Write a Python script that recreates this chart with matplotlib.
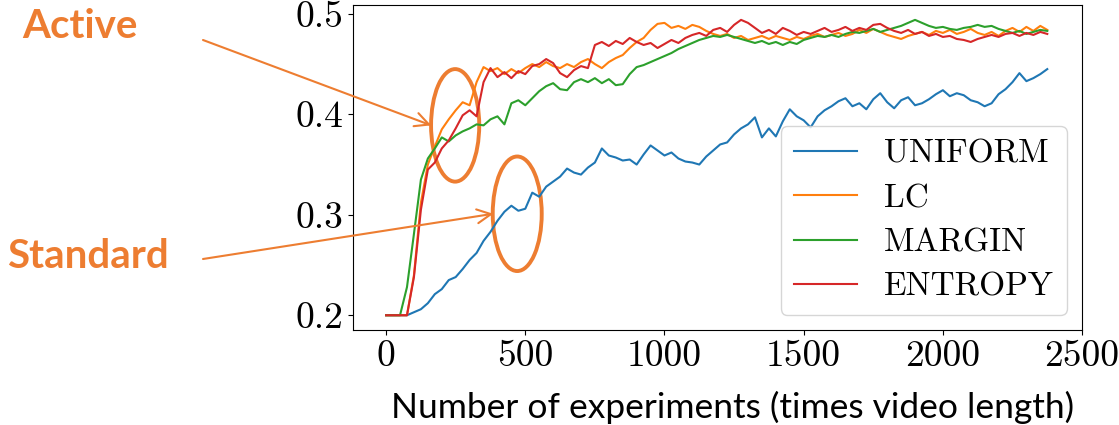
import numpy as np
import matplotlib
matplotlib.use('Agg')
import matplotlib.pyplot as plt
from matplotlib.patches import Ellipse

steps = np.arange(0, 2400, 25)

uniform = [0.200, 0.200, 0.200, 0.200, 0.203, 0.206, 0.212, 0.221, 0.226, 0.235,
           0.238, 0.246, 0.255, 0.262, 0.274, 0.283, 0.294, 0.303, 0.309, 0.304,
           0.306, 0.322, 0.318, 0.328, 0.333, 0.338, 0.346, 0.342, 0.340, 0.347,
           0.352, 0.366, 0.359, 0.357, 0.354, 0.355, 0.350, 0.360, 0.369, 0.364,
           0.359, 0.362, 0.356, 0.353, 0.352, 0.350, 0.358, 0.364, 0.370, 0.372,
           0.380, 0.386, 0.390, 0.397, 0.377, 0.386, 0.378, 0.393, 0.405, 0.398,
           0.394, 0.387, 0.398, 0.404, 0.408, 0.413, 0.416, 0.408, 0.411, 0.405,
           0.415, 0.421, 0.412, 0.406, 0.414, 0.417, 0.409, 0.411, 0.415, 0.420,
           0.424, 0.418, 0.421, 0.419, 0.414, 0.412, 0.408, 0.411, 0.420, 0.425,
           0.432, 0.441, 0.433, 0.436, 0.440, 0.445]

lc = [0.200, 0.200, 0.200, 0.200, 0.240, 0.312, 0.350, 0.368, 0.385, 0.395,
      0.404, 0.412, 0.409, 0.432, 0.447, 0.443, 0.446, 0.440, 0.445, 0.441,
      0.446, 0.450, 0.447, 0.452, 0.448, 0.446, 0.450, 0.447, 0.452, 0.455,
      0.450, 0.446, 0.452, 0.456, 0.459, 0.466, 0.472, 0.476, 0.484, 0.490,
      0.491, 0.486, 0.488, 0.485, 0.489, 0.487, 0.483, 0.480, 0.478, 0.480,
      0.476, 0.478, 0.474, 0.476, 0.478, 0.475, 0.478, 0.476, 0.474, 0.477,
      0.475, 0.478, 0.480, 0.477, 0.479, 0.481, 0.478, 0.480, 0.484, 0.481,
      0.485, 0.482, 0.479, 0.477, 0.475, 0.478, 0.480, 0.482, 0.479, 0.483,
      0.481, 0.484, 0.480, 0.482, 0.485, 0.481, 0.479, 0.482, 0.478, 0.483,
      0.486, 0.482, 0.487, 0.483, 0.488, 0.484]

margin = [0.200, 0.200, 0.200, 0.228, 0.281, 0.335, 0.356, 0.366, 0.377, 0.373,
          0.379, 0.383, 0.386, 0.390, 0.389, 0.395, 0.398, 0.390, 0.411, 0.414,
          0.409, 0.416, 0.423, 0.428, 0.431, 0.425, 0.424, 0.432, 0.435, 0.432,
          0.436, 0.431, 0.435, 0.429, 0.430, 0.440, 0.447, 0.449, 0.452, 0.455,
          0.458, 0.461, 0.465, 0.468, 0.471, 0.474, 0.476, 0.478, 0.477, 0.479,
          0.477, 0.475, 0.473, 0.471, 0.473, 0.470, 0.472, 0.469, 0.472, 0.470,
          0.474, 0.476, 0.478, 0.477, 0.479, 0.477, 0.480, 0.482, 0.481, 0.483,
          0.485, 0.482, 0.484, 0.486, 0.488, 0.491, 0.494, 0.491, 0.488, 0.486,
          0.487, 0.485, 0.484, 0.486, 0.487, 0.489, 0.487, 0.488, 0.485, 0.483,
          0.481, 0.483, 0.480, 0.482, 0.484, 0.483]

entropy = [0.200, 0.200, 0.200, 0.200, 0.238, 0.305, 0.345, 0.352, 0.366, 0.374,
           0.386, 0.399, 0.404, 0.398, 0.432, 0.446, 0.437, 0.442, 0.436, 0.443,
           0.440, 0.448, 0.450, 0.455, 0.451, 0.441, 0.437, 0.444, 0.448, 0.446,
           0.469, 0.472, 0.468, 0.473, 0.470, 0.476, 0.472, 0.469, 0.471, 0.466,
           0.470, 0.474, 0.471, 0.476, 0.479, 0.481, 0.478, 0.484, 0.486, 0.482,
           0.489, 0.494, 0.491, 0.486, 0.481, 0.484, 0.480, 0.486, 0.483, 0.479,
           0.482, 0.480, 0.483, 0.486, 0.482, 0.484, 0.487, 0.483, 0.486, 0.484,
           0.489, 0.490, 0.486, 0.483, 0.481, 0.484, 0.480, 0.482, 0.478, 0.480,
           0.477, 0.478, 0.475, 0.474, 0.472, 0.475, 0.477, 0.479, 0.477, 0.480,
           0.481, 0.478, 0.481, 0.479, 0.482, 0.480]

orange = '#ED7D31'

fig = plt.figure(figsize=(11.19, 4.25), dpi=100)
ax = fig.add_axes([0.3155, 0.2235, 0.6515, 0.7645])

ax.plot(steps, uniform, color='C0', label='UNIFORM')
ax.plot(steps, lc, color='C1', label='LC')
ax.plot(steps, margin, color='C2', label='MARGIN')
ax.plot(steps, entropy, color='C3', label='ENTROPY')

ax.set_xticks([0, 500, 1000, 1500, 2000, 2500])
ax.set_yticks([0.2, 0.3, 0.4, 0.5])
for lab in ax.get_xticklabels() + ax.get_yticklabels():
    lab.set_family('cmr10')
    lab.set_fontsize(27)

leg = ax.legend(loc='lower right', prop={'family': 'cmr10', 'size': 24},
                handlelength=1.9, labelspacing=0.45, borderaxespad=0.45)

# ellipses around the curves
ax.add_patch(Ellipse((248, 0.389), 173, 0.112, fill=False, ec=orange, lw=2.8))
ax.add_patch(Ellipse((471, 0.301), 176, 0.114, fill=False, ec=orange, lw=2.8))

# annotations on the left
ax.annotate('Active', xy=(162, 0.389), xycoords='data',
            xytext=(80 / 1119, 1 - 27 / 425), textcoords='figure fraction',
            ha='center', va='center', fontsize=29, fontweight='bold',
            family='Lato', color=orange)
ax.annotate('', xy=(162, 0.389), xycoords='data',
            xytext=(203 / 1119, 1 - 40 / 425), textcoords='figure fraction',
            arrowprops=dict(arrowstyle='->', color=orange, lw=1.5,
                            mutation_scale=25, shrinkA=0, shrinkB=0))
ax.annotate('Standard', xy=(385, 0.301), xycoords='data',
            xytext=(88 / 1119, 1 - 257 / 425), textcoords='figure fraction',
            ha='center', va='center', fontsize=29, fontweight='bold',
            family='Lato', color=orange)
ax.annotate('', xy=(385, 0.301), xycoords='data',
            xytext=(203 / 1119, 1 - 259 / 425), textcoords='figure fraction',
            arrowprops=dict(arrowstyle='->', color=orange, lw=1.5,
                            mutation_scale=25, shrinkA=0, shrinkB=0))

fig.text(733 / 1119, 1 - 407 / 425, 'Number of experiments (times video length)',
         ha='center', va='center', fontsize=25.5, family='Lato', color='black')

fig.savefig('out.png', dpi=100)
